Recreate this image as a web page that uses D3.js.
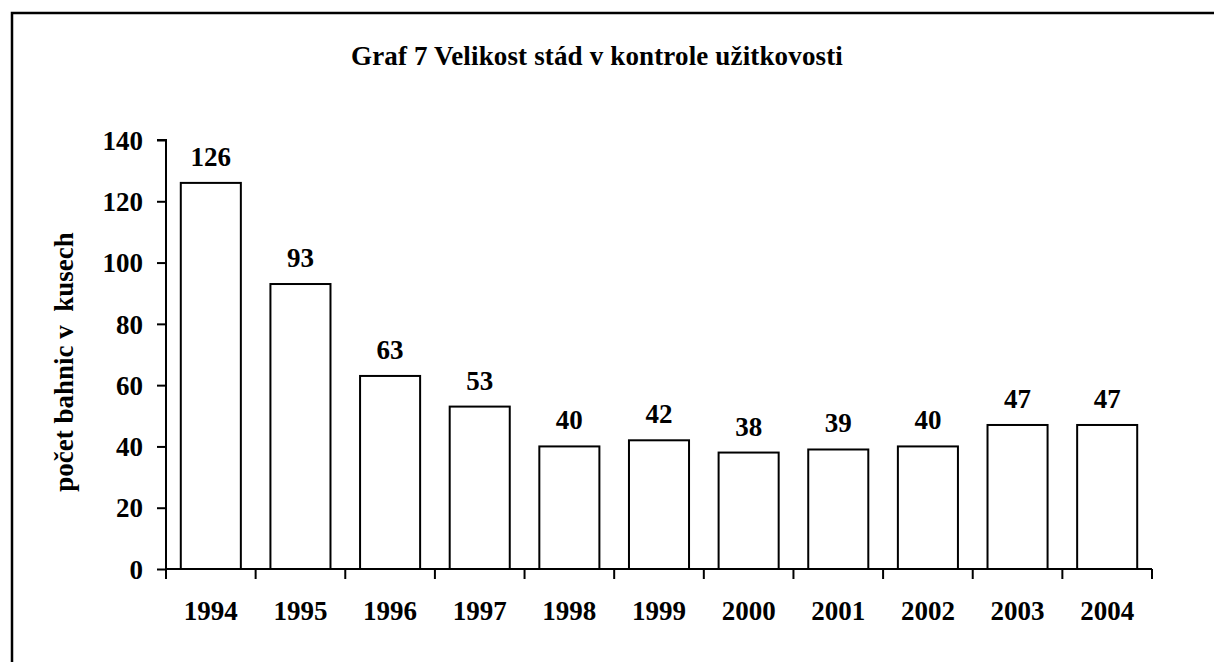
<!DOCTYPE html>
<html>
<head>
<meta charset="utf-8">
<script src="https://cdn.jsdelivr.net/npm/d3@7"></script>
<style>
    body { margin: 0; background: #fff; }
</style>
</head>
<body>
<svg id="chart" width="1214" height="662"></svg>
<script>
// chart data
const years = ["1994", "1995", "1996", "1997", "1998", "1999", "2000", "2001", "2002", "2003", "2004"];
const herdSizes = [126, 93, 63, 53, 40, 42, 38, 39, 40, 47, 47];
const yTicks = [0, 20, 40, 60, 80, 100, 120, 140];

const titleText = "Graf 7 Velikost stád v kontrole užitkovosti";
const yTitle = "počet bahnic v  kusech";

const width = 1214;
const height = 662;
const fontSize = 27;
const serif = "'Liberation Serif', 'Times New Roman', Times, serif";

let svg = d3.select("#chart")
    .attr("font-family", serif)
    .attr("font-weight", "bold");

// helper so every label gets the same font
function styleText(sel) {
    return sel.attr("font-family", serif)
        .attr("font-weight", "bold")
        .attr("font-size", fontSize)
        .attr("fill", "#000");
}

// outer frame (runs off the right and bottom edge)
svg.append("rect")
    .attr("x", 12)
    .attr("y", 13)
    .attr("width", width)
    .attr("height", height)
    .attr("fill", "none")
    .attr("stroke", "#000")
    .attr("stroke-width", 2.5);

let plotLeft = 166;
let plotRight = 1152;
let plotTop = 140;
let plotBottom = 569;

let xScale = d3.scaleBand()
    .domain(years)
    .range([plotLeft, plotRight])
    .paddingInner(0.33)
    .paddingOuter(0.165);

let yScale = d3.scaleLinear()
    .domain([0, 140])
    .range([plotBottom, plotTop]);

// title
svg.append("text")
    .attr("x", 597)
    .attr("y", 65)
    .attr("text-anchor", "middle")
    .call(styleText)
    .attr("letter-spacing", 0.15)
    .text(titleText);

// bars
svg.append("g")
    .selectAll("rect")
    .data(herdSizes)
    .join("rect")
    .attr("x", (d, i) => xScale(years[i]))
    .attr("y", d => yScale(d))
    .attr("width", xScale.bandwidth())
    .attr("height", d => plotBottom - yScale(d))
    .attr("fill", "#fff")
    .attr("stroke", "#000")
    .attr("stroke-width", 2);

// value labels
svg.append("g")
    .selectAll("text")
    .data(herdSizes)
    .join("text")
    .attr("x", (d, i) => xScale(years[i]) + xScale.bandwidth() / 2)
    .attr("y", d => yScale(d) - 17)
    .attr("text-anchor", "middle")
    .call(styleText)
    .text(d => d);

// y axis
let yAxis = svg.append("g")
    .attr("transform", `translate(${plotLeft},0)`)
    .call(d3.axisLeft(yScale).tickValues(yTicks).tickSize(9).tickPadding(14));

yAxis.attr("font-family", serif).attr("font-size", fontSize);
yAxis.select(".domain")
    .attr("d", `M-9,${yScale(140)}H0V${plotBottom}`)
    .attr("stroke-width", 2);
yAxis.selectAll(".tick line").attr("stroke-width", 2);
yAxis.selectAll(".tick text")
    .call(styleText)
    .attr("dy", "0.34em");

// x axis: baseline plus ticks at category boundaries
let gap = xScale.step() - xScale.bandwidth();
let boundaries = years.map(y => xScale(y) - gap / 2).concat([plotRight]);

let xAxis = svg.append("g");
xAxis.append("line")
    .attr("x1", plotLeft)
    .attr("x2", plotRight)
    .attr("y1", plotBottom)
    .attr("y2", plotBottom)
    .attr("stroke", "#000")
    .attr("stroke-width", 2);

xAxis.selectAll(".xtick")
    .data(boundaries)
    .join("line")
    .attr("class", "xtick")
    .attr("x1", d => d)
    .attr("x2", d => d)
    .attr("y1", plotBottom)
    .attr("y2", plotBottom + 10)
    .attr("stroke", "#000")
    .attr("stroke-width", 2);

xAxis.selectAll(".xlabel")
    .data(years)
    .join("text")
    .attr("class", "xlabel")
    .attr("x", d => xScale(d) + xScale.bandwidth() / 2)
    .attr("y", plotBottom + 51)
    .attr("text-anchor", "middle")
    .call(styleText)
    .text(d => d);

// y axis title
svg.append("text")
    .attr("transform", "translate(73,362) rotate(-90)")
    .attr("text-anchor", "middle")
    .call(styleText)
    .attr("xml:space", "preserve")
    .style("white-space", "pre")
    .text(yTitle);
</script>
</body>
</html>
